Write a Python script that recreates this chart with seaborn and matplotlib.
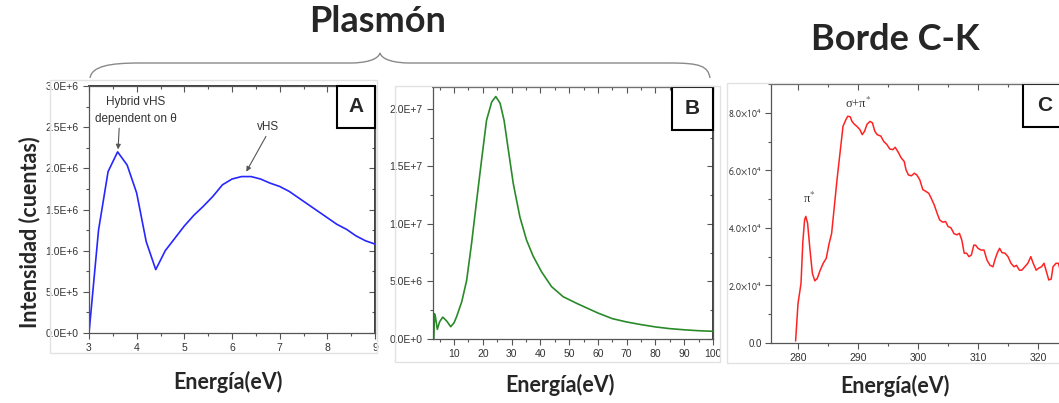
import numpy as np
import pandas as pd
import matplotlib
matplotlib.use('Agg')
import matplotlib.pyplot as plt
import seaborn as sns
from matplotlib.patches import Rectangle, PathPatch
from matplotlib.path import Path
from matplotlib.ticker import MultipleLocator, FuncFormatter

# Panel A - plasmon, low energy region
energy_a = [3.0, 3.2, 3.4, 3.6, 3.8, 4.0, 4.2, 4.4, 4.6, 4.8, 5.0, 5.2, 5.4, 5.6, 5.8,
            6.0, 6.2, 6.4, 6.6, 6.8, 7.0, 7.2, 7.4, 7.6, 7.8, 8.0, 8.2, 8.4, 8.6, 8.8, 9.0]
counts_a = [0.0, 1.25e6, 1.96e6, 2.20e6, 2.04e6, 1.70e6, 1.11e6, 0.77e6, 1.00e6, 1.15e6,
            1.30e6, 1.43e6, 1.54e6, 1.66e6, 1.80e6, 1.87e6, 1.90e6, 1.90e6, 1.87e6, 1.82e6,
            1.78e6, 1.72e6, 1.64e6, 1.56e6, 1.48e6, 1.40e6, 1.32e6, 1.26e6, 1.18e6, 1.12e6, 1.08e6]

# Panel B - plasmon, full range
energy_b = [3.0, 3.2, 3.5, 4.2, 5.0, 6.1, 7.5, 8.85, 10.0, 10.9, 12.7, 14.4, 16.1, 17.9,
            19.6, 21.3, 23.1, 24.5, 26.0, 27.4, 28.9, 30.6, 32.9, 35.2, 37.5, 40.4, 43.9,
            47.9, 52.6, 57.0, 60, 65, 70, 75, 80, 85, 90, 95, 100]
counts_b = [0.0, 2.2e6, 2.0e6, 0.84e6, 1.5e6, 1.9e6, 1.55e6, 1.07e6, 1.4e6, 1.94e6, 3.25e6,
            5.1e6, 8.3e6, 12.1e6, 15.6e6, 19.0e6, 20.6e6, 21.07e6, 20.5e6, 19.0e6, 16.4e6,
            13.5e6, 10.6e6, 8.6e6, 7.2e6, 5.85e6, 4.55e6, 3.68e6, 3.1e6, 2.6e6, 2.26e6,
            1.77e6, 1.48e6, 1.25e6, 1.05e6, 0.9e6, 0.8e6, 0.72e6, 0.67e6]

# Panel C - C-K edge
energy_c = [279.6, 280.0, 280.5, 280.8, 281.1, 281.3, 281.6, 282.0, 282.4, 282.8, 283.2, 283.7,
            284.2, 284.7, 285.2, 285.6, 286.0, 286.5, 287.0, 287.5, 288.0, 288.3, 288.7, 289.0,
            289.4, 289.8, 290.3, 290.7, 291.1, 291.5, 292.0, 292.4, 292.8, 293.2, 293.8, 294.3,
            294.8, 295.3, 295.8, 296.2, 296.7, 297.2, 297.7, 298.0, 298.4, 298.9, 299.4, 299.8,
            300.3, 300.8, 301.3, 301.8, 302.2, 302.7, 303.2, 303.6, 304.1, 304.6, 305.0, 305.5,
            306.0, 306.5, 306.9, 307.3, 307.7, 308.1, 308.5, 308.9, 309.3, 309.6, 310.0, 310.5,
            311.0, 311.5, 312.0, 312.5, 312.8, 313.2, 313.6, 314.0, 314.5, 315.0, 315.5, 316.0,
            316.4, 316.9, 317.3, 317.8, 318.3, 318.8, 319.2, 319.7, 320.1, 320.6, 321.0, 321.4,
            321.8, 322.2, 322.5, 323.0, 323.4, 323.7, 324.5]
counts_c = [0.07e4, 1.37e4, 2.07e4, 3.5e4, 4.28e4, 4.4e4, 4.16e4, 3.23e4, 2.42e4, 2.16e4, 2.24e4,
            2.53e4, 2.77e4, 2.94e4, 3.47e4, 3.8e4, 4.63e4, 5.67e4, 6.6e4, 7.53e4, 7.77e4, 7.88e4,
            7.86e4, 7.7e4, 7.6e4, 7.53e4, 7.42e4, 7.24e4, 7.36e4, 7.6e4, 7.7e4, 7.65e4, 7.36e4,
            7.24e4, 7.19e4, 7.0e4, 6.9e4, 6.74e4, 6.72e4, 6.8e4, 6.63e4, 6.43e4, 6.31e4, 6.02e4,
            5.84e4, 5.81e4, 5.9e4, 5.84e4, 5.67e4, 5.33e4, 5.27e4, 5.2e4, 5.03e4, 4.8e4, 4.5e4,
            4.28e4, 4.2e4, 4.22e4, 4.05e4, 4.0e4, 3.8e4, 3.76e4, 3.81e4, 3.58e4, 3.12e4, 3.12e4,
            3.0e4, 3.06e4, 3.4e4, 3.4e4, 3.29e4, 3.23e4, 3.23e4, 2.88e4, 2.7e4, 2.65e4, 2.88e4,
            3.12e4, 3.29e4, 3.14e4, 3.12e4, 3.0e4, 2.77e4, 2.65e4, 2.7e4, 2.53e4, 2.53e4, 2.65e4,
            2.77e4, 3.0e4, 2.77e4, 2.53e4, 2.6e4, 2.65e4, 2.77e4, 2.48e4, 2.19e4, 2.22e4, 2.65e4,
            2.77e4, 2.77e4, 2.53e4, 2.7e4]

sns.set_theme(style='ticks')
plt.rcParams['font.family'] = ['Liberation Sans', 'DejaVu Sans']
plt.rcParams['mathtext.fontset'] = 'stixsans'

W, H = 1059, 403
fig = plt.figure(figsize=(W / 100, H / 100), dpi=100)


def px_axes(left, top, right, bottom):
    return fig.add_axes([left / W, 1 - bottom / H, (right - left) / W, (bottom - top) / H])


def sci_label(v, pos):
    s = '%.1E' % v
    return s.replace('E+0', 'E+').replace('E-0', 'E-')


def c_label(v, pos):
    if abs(v) < 1:
        return '0.0'
    return r'$%.1f{\times}10^{4}$' % (v / 1e4)


def style_axes(ax, xmaj, xmin, ymaj, ymin, yfmt):
    for sp in ax.spines.values():
        sp.set_visible(True)
        sp.set_color('#555555')
        sp.set_linewidth(0.9)
    ax.xaxis.set_major_locator(MultipleLocator(xmaj))
    ax.xaxis.set_minor_locator(MultipleLocator(xmin))
    ax.yaxis.set_major_locator(MultipleLocator(ymaj))
    ax.yaxis.set_minor_locator(MultipleLocator(ymin))
    ax.yaxis.set_major_formatter(FuncFormatter(yfmt))
    ax.tick_params(which='both', direction='out', colors='#555555', labelcolor='#333333',
                   labelsize=7.5, width=0.8)
    ax.tick_params(which='major', length=4)
    ax.tick_params(which='minor', length=2.5)
    ax.set_xlabel('')
    ax.set_ylabel('')
    top = ax.secondary_xaxis('top')
    top.xaxis.set_major_locator(MultipleLocator(xmaj))
    top.xaxis.set_minor_locator(MultipleLocator(xmin))
    top.tick_params(which='both', direction='in', labeltop=False, colors='#555555', width=0.8)
    top.tick_params(which='major', length=4)
    top.tick_params(which='minor', length=2.5)
    right = ax.secondary_yaxis('right')
    right.yaxis.set_major_locator(MultipleLocator(ymaj))
    right.yaxis.set_minor_locator(MultipleLocator(ymin))
    right.tick_params(which='both', direction='in', labelright=False, colors='#555555', width=0.8)
    right.tick_params(which='major', length=4)
    right.tick_params(which='minor', length=2.5)


def letter_box(ax, letter, x0, w, h):
    ax.add_patch(Rectangle((x0, 1 - h), w, h, transform=ax.transAxes, facecolor='white',
                           edgecolor='black', lw=1.5, clip_on=False, zorder=5))
    ax.text(x0 + w / 2, 1 - h / 2, letter, transform=ax.transAxes, ha='center', va='center',
            fontsize=15, fontweight='bold', zorder=6)


# light frames around the panels
for (l, t, r, b) in [(50, 80, 377, 353), (395, 86, 720, 362), (727, 83, 1070, 363)]:
    fig.patches.append(Rectangle((l / W, 1 - b / H), (r - l) / W, (b - t) / H,
                                 transform=fig.transFigure, fill=False,
                                 edgecolor='#e2e2e2', lw=1.0))

# Panel A
ax_a = px_axes(89, 86, 375, 333)
sns.lineplot(x=energy_a, y=counts_a, ax=ax_a, color='#2626ff', lw=1.2)
ax_a.set_xlim(3, 9)
ax_a.set_ylim(0, 3.0e6)
style_axes(ax_a, 1, 0.5, 0.5e6, 0.25e6, sci_label)
letter_box(ax_a, 'A', 0.866, 0.133, 0.17)
arrow = dict(arrowstyle='-|>', color='#555555', lw=0.8, mutation_scale=7, shrinkA=0, shrinkB=0)
ax_a.annotate('Hybrid vHS\ndependent on θ', xy=(3.61, 2.23e6), xytext=(3.98, 2.7e6),
              ha='center', va='center', fontsize=8.5, color='#333333', linespacing=1.5,
              arrowprops=dict(arrow, relpos=(0.3, 0.0)))
ax_a.annotate('vHS', xy=(6.3, 1.96e6), xytext=(6.75, 2.5e6), ha='center', va='center',
              fontsize=8.5, color='#333333', arrowprops=dict(arrow, relpos=(0.5, 0.0)))

# Panel B
ax_b = px_axes(433, 87, 713, 339)
sns.lineplot(x=energy_b, y=counts_b, ax=ax_b, color='#2a8a2a', lw=1.2)
ax_b.set_xlim(2.7, 100)
ax_b.set_ylim(0, 2.19e7)
style_axes(ax_b, 10, 5, 5e6, 2.5e6, sci_label)
ax_b.set_xticks([10, 20, 30, 40, 50, 60, 70, 80, 90, 100])
letter_box(ax_b, 'B', 0.853, 0.147, 0.17)

# Panel C
ax_c = px_axes(771, 84, 1098, 343)
sns.lineplot(x=energy_c, y=counts_c, ax=ax_c, color='#ff2222', lw=1.1)
ax_c.set_xlim(275.5, 330)
ax_c.set_ylim(0, 9.0e4)
style_axes(ax_c, 10, 5, 2e4, 1e4, c_label)
ax_c.tick_params(axis='y', labelsize=7, pad=2.5)
ax_c.set_xticks([280, 290, 300, 310, 320])
letter_box(ax_c, 'C', 0.771, 0.13, 0.166)
serif = ['Liberation Serif', 'DejaVu Serif']
ax_c.text(281.8, 4.75e4, r'π$^{*}$', ha='center', va='bottom', fontsize=9, color='#333333',
          family=serif, math_fontfamily='stix')
ax_c.text(290.0, 8.05e4, r'σ+π$^{*}$', ha='center', va='bottom', fontsize=9,
          color='#333333', family=serif, math_fontfamily='stix')

# labels and titles
bold = dict(fontweight='bold', family=['Lato', 'DejaVu Sans'])
fig.text(30 / W, 1 - 232 / H, 'Intensidad (cuentas)', rotation=90, ha='center', va='center',
         fontsize=15.5, **bold)
for cx, cy in [(228, 382), (560, 385), (895, 386)]:
    fig.text(cx / W, 1 - cy / H, 'Energía(eV)', ha='center', va='center', fontsize=15.5, **bold)
fig.text(378 / W, 1 - 22 / H, 'Plasmón', ha='center', va='center', fontsize=26, **bold)
fig.text(895 / W, 1 - 40 / H, 'Borde C-K', ha='center', va='center', fontsize=26, **bold)

# curly brace over panels A and B
pts = [(90, 78), (92, 66), (110, 63), (140, 63),
       (350, 63), (365, 63), (378, 60), (380, 53),
       (382, 60), (395, 63), (410, 63),
       (670, 63), (700, 63), (708, 66), (710, 78)]
codes = [Path.MOVETO, Path.CURVE4, Path.CURVE4, Path.CURVE4,
         Path.LINETO, Path.CURVE4, Path.CURVE4, Path.CURVE4,
         Path.CURVE4, Path.CURVE4, Path.CURVE4,
         Path.LINETO, Path.CURVE4, Path.CURVE4, Path.CURVE4]
brace = Path([(x / W, 1 - y / H) for x, y in pts], codes)
fig.patches.append(PathPatch(brace, transform=fig.transFigure, fill=False,
                             edgecolor='#8a8a8a', lw=1.0))

fig.savefig('out.png', dpi=100, facecolor='white')
